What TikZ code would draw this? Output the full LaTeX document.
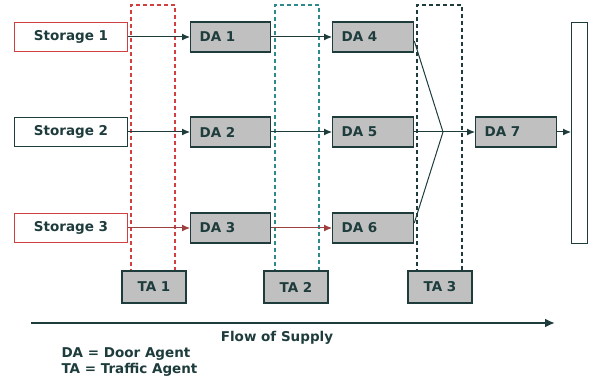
\documentclass[tikz,border=0pt]{standalone}
\usepackage{fontspec}
\setmainfont{DejaVu Sans}
\usetikzlibrary{arrows.meta}
\definecolor{ln}{HTML}{1E3C3C}
\definecolor{gr}{HTML}{C0C0C0}
\definecolor{rd}{HTML}{D04040}
\definecolor{tl}{HTML}{2E8A8A}
\begin{document}
\begin{tikzpicture}[x=1pt,y=-1pt,
  lbl/.style={font=\bfseries\fontsize{13.5}{15}\selectfont, text=ln},
  stor/.style={draw=rd, line width=1.1pt, fill=white, lbl},
  da/.style={draw=ln, line width=1.3pt, fill=gr, lbl},
  ta/.style={draw=ln, line width=1.3pt, fill=gr, lbl},
  flow/.style={draw=ln, line width=1pt, -{Latex[length=8pt,width=7pt]}},
  dbox/.style={line width=1.1pt, dash pattern=on 4pt off 3pt}]
\useasboundingbox (0,0) rectangle (590,385);
% dashed TA boxes
\draw[dbox, draw=rd] (131,287) -- (131,5) -- (175,5) -- (175,287);
\draw[dbox, draw=tl] (275,287) -- (275,5) -- (319,5) -- (319,287);
\draw[dbox, draw=ln, line width=1.3pt] (417,287) -- (417,5) -- (462,5) -- (462,287);
% storage
\node[stor, minimum width=113pt, minimum height=29pt, anchor=west] (s1) at (14,37) {Storage 1};
\node[stor, draw=ln, minimum width=113pt, minimum height=29pt, anchor=west] (s2) at (14,132) {Storage 2};
\node[stor, minimum width=113pt, minimum height=29pt, anchor=west] (s3) at (14,228) {Storage 3};
% DA
\node[da, minimum width=80pt, minimum height=30pt, anchor=west, text width=62pt] (d1) at (190,37) {DA 1};
\node[da, minimum width=80pt, minimum height=30pt, anchor=west, text width=62pt] (d2) at (190,132) {DA 2};
\node[da, minimum width=80pt, minimum height=30pt, anchor=west, text width=62pt] (d3) at (190,228) {DA 3};
\node[da, minimum width=81pt, minimum height=30pt, anchor=west, text width=63pt] (d4) at (332,37) {DA 4};
\node[da, minimum width=81pt, minimum height=30pt, anchor=west, text width=63pt] (d5) at (332,132) {DA 5};
\node[da, minimum width=81pt, minimum height=30pt, anchor=west, text width=63pt] (d6) at (332,228) {DA 6};
\node[da, minimum width=81pt, minimum height=30pt, anchor=west, text width=63pt] (d7) at (475,132) {DA 7};
% bar
\node[draw=ln, line width=1.3pt, fill=white, minimum width=16pt, minimum height=221pt, anchor=north west, inner sep=0pt] (bar) at (571,22) {};
% TA
\node[ta, minimum width=64pt, minimum height=32pt] (t1) at (154,287) {TA 1};
\node[ta, minimum width=64pt, minimum height=32pt] (t2) at (296,287) {TA 2};
\node[ta, minimum width=64pt, minimum height=32pt] (t3) at (440,287) {TA 3};
% connectors
\draw[flow] (s1) -- (d1);
\draw[flow] (s2) -- (d2);
\draw[flow, draw=rd!70!ln] (s3) -- (d3);
\draw[flow] (d1) -- (d4);
\draw[flow] (d2) -- (d5);
\draw[flow, draw=rd!70!ln] (d3) -- (d6);
\coordinate (m) at (443,132);
\draw[draw=ln, line width=1pt] (d4.east) ++(0,4) -- (m);
\draw[draw=ln, line width=1pt] (d6.east) ++(0,-5) -- (m);
\draw[flow] (d5) -- (d7);
\draw[flow] (d7) -- (bar.west |- d7.east);
% flow of supply
\coordinate (fa) at (31,323);
\coordinate (fb) at (555,323);
\draw[draw=ln, line width=2.2pt, -{Latex[length=10pt,width=9pt]}] (fa) -- (fb);
\node[lbl] (fl) at (277,338) {Flow of Supply};
\node[lbl, anchor=west, align=left, font=\bfseries\fontsize{13.5}{15.5}\selectfont] (lg) at (58,362) {DA = Door Agent\\TA = Traffic Agent};
\end{tikzpicture}
\end{document}
